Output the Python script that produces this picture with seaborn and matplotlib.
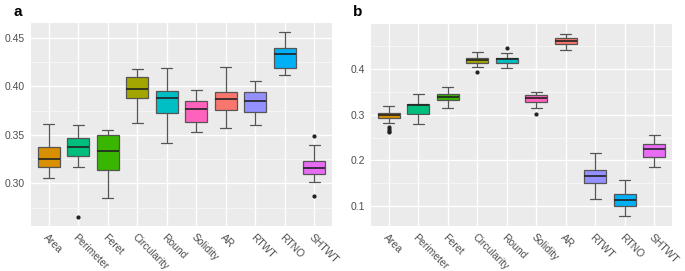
import matplotlib
matplotlib.use('Agg')
import matplotlib.pyplot as plt
import numpy as np
import pandas as pd
import seaborn as sns

features = ['Area', 'Perimeter', 'Feret', 'Circularity', 'Round',
            'Solidity', 'AR', 'RTWT', 'RTNO', 'SHTWT']
colors = ['#D89000', '#00BF7D', '#39B600', '#A3A500', '#00BFC4',
          '#FF62BC', '#F8766D', '#9590FF', '#00B0F6', '#E76BF3']

# panel a: whisker low, Q1, median, Q3, whisker high, outliers
a_lo = [0.305, 0.3172, 0.2852, 0.362, 0.342, 0.3528, 0.3566, 0.3603, 0.4117, 0.3017]
a_q1 = [0.3166, 0.328, 0.3134, 0.388, 0.3724, 0.3634, 0.3759, 0.3734, 0.4186, 0.3093]
a_med = [0.3255, 0.338, 0.3338, 0.3972, 0.3886, 0.3772, 0.3869, 0.3848, 0.4334, 0.3162]
a_q3 = [0.338, 0.3466, 0.3503, 0.410, 0.3955, 0.385, 0.3941, 0.3941, 0.4393, 0.3234]
a_hi = [0.361, 0.360, 0.3548, 0.418, 0.419, 0.396, 0.4197, 0.4059, 0.4562, 0.340]
a_out = [[], [0.2655], [], [], [], [], [], [], [], [0.2868, 0.349]]

# panel b
b_lo = [0.281, 0.2794, 0.315, 0.4044, 0.4015, 0.3136, 0.440, 0.1168, 0.0783, 0.1865]
b_q1 = [0.2933, 0.3005, 0.3325, 0.4116, 0.413, 0.328, 0.4537, 0.150, 0.1008, 0.2068]
b_med = [0.299, 0.320, 0.339, 0.418, 0.4218, 0.3354, 0.460, 0.1669, 0.1131, 0.225]
b_q3 = [0.3041, 0.323, 0.3455, 0.4225, 0.424, 0.3434, 0.466, 0.180, 0.127, 0.2351]
b_hi = [0.319, 0.344, 0.360, 0.4356, 0.4334, 0.349, 0.4763, 0.2163, 0.1567, 0.2555]
b_out = [[0.263, 0.265, 0.268, 0.272], [], [], [0.392], [0.445], [0.302], [], [], [], []]


def build_samples(lo, q1, med, q3, hi, out, m=6):
    # sample sets whose quartiles / whiskers / outliers match the read-off summary
    rows = []
    for f, l, a, md, b, h, o in zip(features, lo, q1, med, q3, hi, out):
        low_o = sorted(v for v in o if v < a)
        high_o = sorted(v for v in o if v > b)
        vals = low_o + [l] + [a] * (m - len(low_o))
        vals += [md] * m + [b] * m
        vals += [h] * (m - len(high_o)) + high_o + [h]
        vals = vals[:4 * m + 1]
        rows += [(f, v) for v in vals]
    return pd.DataFrame(rows, columns=['feature', 'value'])


df_a = build_samples(a_lo, a_q1, a_med, a_q3, a_hi, a_out)
df_b = build_samples(b_lo, b_q1, b_med, b_q3, b_hi, b_out)

sns.set_theme(style='darkgrid', rc={
    'axes.facecolor': '#EBEBEB',
    'grid.color': 'white',
    'axes.edgecolor': '#EBEBEB',
})
plt.rcParams['font.family'] = ['Liberation Sans', 'DejaVu Sans']

fig = plt.figure(figsize=(6.85, 2.71), dpi=100)
ax_a = fig.add_axes([0.0453, 0.166, 0.4394, 0.749])
ax_b = fig.add_axes([0.5416, 0.166, 0.4394, 0.744])

panels = [
    (ax_a, df_a, (0.2559, 0.4655), [0.30, 0.35, 0.40, 0.45], '{:.2f}',
     [0.275, 0.325, 0.375, 0.425], 'a'),
    (ax_b, df_b, (0.0572, 0.4966), [0.1, 0.2, 0.3, 0.4], '{:.1f}',
     [0.15, 0.25, 0.35, 0.45], 'b'),
]

for ax, df, ylim, yt, fmt, minor, tag in panels:
    sns.boxplot(
        data=df, x='feature', y='value', hue='feature', order=features,
        hue_order=features, palette=colors, saturation=1, legend=False,
        width=0.75, linewidth=0.9, linecolor='#555555', whis=1.5,
        flierprops=dict(marker='o', markersize=2, markerfacecolor='#222222',
                        markeredgecolor='#222222'),
        medianprops=dict(color='#222222', linewidth=1.2),
        ax=ax,
    )
    ax.set_ylim(ylim)
    ax.set_yticks(yt)
    ax.set_yticklabels([fmt.format(v) for v in yt])
    ax.set_yticks(minor, minor=True)
    ax.grid(True, which='major', color='white', linewidth=1.0)
    ax.grid(True, which='minor', axis='y', color='#F7F7F7', linewidth=0.6)
    ax.set_axisbelow(True)
    ax.set_xlim(-0.6, 9.6)
    ax.set_xlabel('')
    ax.set_ylabel('')
    for s in ax.spines.values():
        s.set_visible(False)
    ax.tick_params(axis='both', which='major', length=2.5, width=0.6,
                   color='#555555', labelsize=7.5, labelcolor='#4D4D4D', pad=2)
    ax.tick_params(axis='y', which='minor', length=0)
    plt.setp(ax.get_xticklabels(), rotation=-45, ha='left', va='top',
             rotation_mode='anchor')
    pos = ax.get_position()
    fig.text(pos.x0 - 0.026, 0.93, tag, fontsize=11, fontweight='bold',
             ha='left', va='bottom', color='black')

fig.savefig('out.png', dpi=100)
